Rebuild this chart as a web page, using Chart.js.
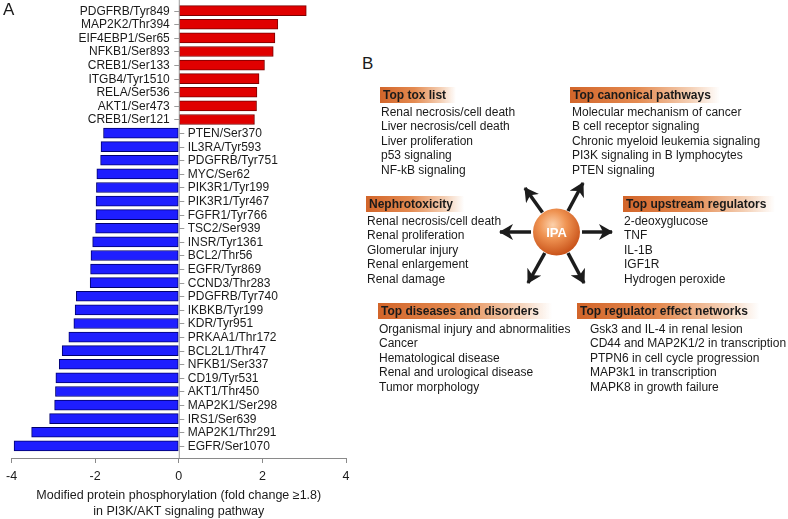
<!DOCTYPE html>
<html>
<head>
<meta charset="utf-8">
<script src="https://cdn.jsdelivr.net/npm/chart.js@4.4.1/dist/chart.umd.min.js"></script>
<style>
  html, body { margin: 0; padding: 0; background: #fff; }
  #page { position: relative; width: 788px; height: 519px; overflow: hidden;
          font-family: "Liberation Sans", Arial, sans-serif; color: #1a1a1a; }
  #chartBox { position: absolute; left: 0; top: 0; width: 360px; height: 519px; }
  .panel { position: absolute; font-size: 17px; line-height: 17px; }
  .hdr { position: absolute; height: 16px; line-height: 16px; font-size: 12px; font-weight: bold;
         padding-left: 3px; box-sizing: border-box; white-space: nowrap;
         background: linear-gradient(90deg, #d2652a 0%, #e48a50 45%, #f4cfb4 80%, rgba(255,255,255,0) 100%); }
  .items { position: absolute; font-size: 12px; line-height: 14.4px; white-space: nowrap; }
  #ipa { position: absolute; left: 0; top: 0; }
</style>
</head>
<body>
<div id="page">
  <div id="chartBox"><canvas id="phosChart" width="360" height="519"></canvas></div>
  <div class="panel" style="left:3px;top:1px">A</div>
  <div class="panel" style="left:362px;top:55px">B</div>

  <svg id="ipa" width="788" height="519">
    <defs>
      <radialGradient id="ball" cx="42%" cy="35%" r="65%">
        <stop offset="0%" stop-color="#fcd1ab"/>
        <stop offset="45%" stop-color="#ef9352"/>
        <stop offset="100%" stop-color="#c9531a"/>
      </radialGradient>
      <marker id="head" markerUnits="userSpaceOnUse" markerWidth="16" markerHeight="16"
              refX="13" refY="8" orient="auto">
        <path d="M0,0 L14,8 L0,16 L4,8 Z" fill="#1c1c1c"/>
      </marker>
    </defs>
    <g stroke="#1c1c1c" stroke-width="3.5" marker-end="url(#head)">
      <line x1="531" y1="232" x2="500" y2="232"/>
      <line x1="582" y1="232" x2="612" y2="232"/>
      <line x1="542.5" y1="212.5" x2="525" y2="188"/>
      <line x1="568" y1="211" x2="583" y2="183"/>
      <line x1="544.8" y1="253" x2="528" y2="283"/>
      <line x1="568" y1="253" x2="584" y2="283"/>
    </g>
    <circle cx="556.5" cy="232" r="23.5" fill="url(#ball)"/>
    <text x="556.5" y="236.5" text-anchor="middle" fill="#fff" font-weight="bold"
          font-size="13" font-family="Liberation Sans, Arial, sans-serif">IPA</text>
  </svg>

  <div class="hdr" style="left:380px;top:87px;width:76px">Top tox list</div>
  <div class="items" style="left:381px;top:105px">Renal necrosis/cell death<br>Liver necrosis/cell death<br>Liver proliferation<br>p53 signaling<br>NF-kB signaling</div>

  <div class="hdr" style="left:570px;top:87px;width:150px">Top canonical pathways</div>
  <div class="items" style="left:572px;top:105px">Molecular mechanism of cancer<br>B cell receptor signaling<br>Chronic myeloid leukemia signaling<br>PI3K signaling in B lymphocytes<br>PTEN signaling</div>

  <div class="hdr" style="left:366px;top:196px;width:98px">Nephrotoxicity</div>
  <div class="items" style="left:367px;top:214px">Renal necrosis/cell death<br>Renal proliferation<br>Glomerular injury<br>Renal enlargement<br>Renal damage</div>

  <div class="hdr" style="left:623px;top:196px;width:152px">Top upstream regulators</div>
  <div class="items" style="left:624px;top:214px">2-deoxyglucose<br>TNF<br>IL-1B<br>IGF1R<br>Hydrogen peroxide</div>

  <div class="hdr" style="left:378px;top:303px;width:174px">Top diseases and disorders</div>
  <div class="items" style="left:379px;top:322px">Organismal injury and abnormalities<br>Cancer<br>Hematological disease<br>Renal and urological disease<br>Tumor morphology</div>

  <div class="hdr" style="left:577px;top:303px;width:182px">Top regulator effect networks</div>
  <div class="items" style="left:590px;top:322px">Gsk3 and IL-4 in renal lesion<br>CD44 and MAP2K1/2 in transcription<br>PTPN6 in cell cycle progression<br>MAP3k1 in transcription<br>MAPK8 in growth failure</div>
</div>

<script>
const sites = [
  'PDGFRB/Tyr849', 'MAP2K2/Thr394', 'EIF4EBP1/Ser65', 'NFKB1/Ser893', 'CREB1/Ser133',
  'ITGB4/Tyr1510', 'RELA/Ser536', 'AKT1/Ser473', 'CREB1/Ser121',
  'PTEN/Ser370', 'IL3RA/Tyr593', 'PDGFRB/Tyr751', 'MYC/Ser62', 'PIK3R1/Tyr199',
  'PIK3R1/Tyr467', 'FGFR1/Tyr766', 'TSC2/Ser939', 'INSR/Tyr1361', 'BCL2/Thr56',
  'EGFR/Tyr869', 'CCND3/Thr283', 'PDGFRB/Tyr740', 'IKBKB/Tyr199', 'KDR/Tyr951',
  'PRKAA1/Thr172', 'BCL2L1/Thr47', 'NFKB1/Ser337', 'CD19/Tyr531', 'AKT1/Thr450',
  'MAP2K1/Ser298', 'IRS1/Ser639', 'MAP2K1/Thr291', 'EGFR/Ser1070'
]
const foldChange = [
  3.05, 2.37, 2.30, 2.26, 2.05, 1.92, 1.87, 1.86, 1.81,
  -1.80, -1.86, -1.87, -1.96, -1.97, -1.98, -1.98, -1.99, -2.06, -2.10,
  -2.11, -2.12, -2.45, -2.48, -2.51, -2.63, -2.79, -2.86, -2.94, -2.95,
  -2.97, -3.09, -3.52, -3.94
]
const xTicks = [-4, -2, 0, 2, 4]
const axisTitle = ['Modified protein phosphorylation (fold change \u22651.8)', 'in PI3K/AKT signaling pathway']

const FONT = '"Liberation Sans", Arial, sans-serif'

// labels sit next to the zero line, on the opposite side of the bar
const siteLabels = {
  id: 'siteLabels',
  afterDatasetsDraw(chart) {
    const { ctx, scales: { x, y }, chartArea } = chart
    const x0 = x.getPixelForValue(0)
    ctx.save()
    ctx.strokeStyle = '#9a9a9a'
    ctx.lineWidth = 1
    ctx.beginPath()
    ctx.moveTo(x0 + 0.5, 0)
    ctx.lineTo(x0 + 0.5, chartArea.bottom)
    ctx.stroke()
    ctx.font = '12px ' + FONT
    ctx.fillStyle = '#1a1a1a'
    ctx.textBaseline = 'middle'
    sites.forEach((s, i) => {
      const py = Math.round(y.getPixelForValue(i)) + 0.5
      const up = foldChange[i] > 0
      const dir = up ? -1 : 1
      ctx.beginPath()
      ctx.moveTo(x0 + 0.5, py)
      ctx.lineTo(x0 + 0.5 + dir * 5, py)
      ctx.stroke()
      ctx.textAlign = up ? 'right' : 'left'
      ctx.fillText(s, x0 + dir * 9, py)
    })
    ctx.restore()
  }
}

new Chart(document.getElementById('phosChart'), {
  type: 'bar',
  data: {
    datasets: [{
      data: foldChange.map((v, i) => ({ x: v, y: i })),
      backgroundColor: foldChange.map(v => v > 0 ? '#e00000' : '#1e1eff'),
      borderColor: foldChange.map(v => v > 0 ? '#7a0000' : '#00006e'),
      borderWidth: 1,
      borderSkipped: false,
      barThickness: 10
    }]
  },
  options: {
    indexAxis: 'y',
    responsive: false,
    animation: false,
    layout: { padding: { left: 10, right: 14, top: 4, bottom: 0 } },
    plugins: { legend: { display: false }, tooltip: { enabled: false } },
    scales: {
      y: { type: 'linear', display: false, offset: false, reverse: true, min: -0.49, max: 32.89 },
      x: {
        min: -4, max: 4,
        afterBuildTicks: (scale) => { scale.ticks = xTicks.map(v => ({ value: v })) },
        afterFit: (scale) => { scale.height = 61 },
        ticks: { color: '#1a1a1a', font: { family: FONT, size: 12.5 }, padding: 6 },
        grid: { drawOnChartArea: false, drawTicks: true, tickLength: 5, color: '#8a8a8a' },
        border: { color: '#8a8a8a' },
        title: {
          display: true, text: axisTitle, color: '#1a1a1a',
          font: { family: FONT, size: 12.5, lineHeight: 1.28 }, padding: { top: 4, bottom: -1 }
        }
      }
    }
  },
  plugins: [siteLabels]
})
</script>
</body>
</html>
